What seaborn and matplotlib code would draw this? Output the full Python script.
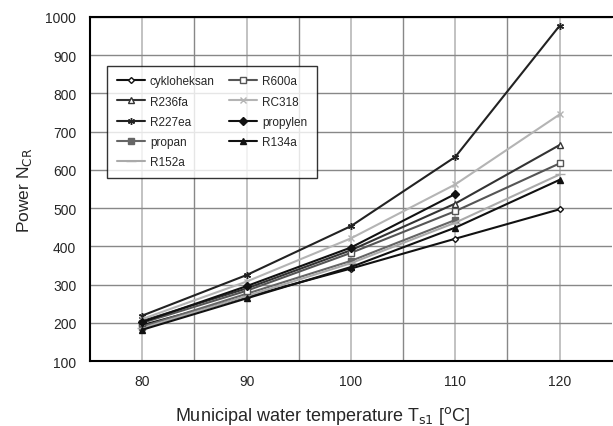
import pandas as pd
import matplotlib
matplotlib.use("Agg")
import matplotlib.pyplot as plt
from matplotlib.ticker import MultipleLocator
import seaborn as sns

# temperatura wody T_s1 [oC]
temp = [80, 90, 100, 110, 120]

cykloheksan = [194, 268, 342, 420, 497]
r600a = [200, 284, 383, 492, 617]
r236fa = [205, 290, 390, 512, 665]
rc318 = [210, 308, 421, 562, 745]
r227ea = [219, 325, 453, 634, 977]
propylen = [202, 296, 397, 537]
propan = [190, 276, 362, 469]
r134a = [182, 264, 346, 449, 574]
r152a = [186, 270, 356, 462, 588]

sns.set_style("white")
plt.rcParams['font.family'] = ['Liberation Sans', 'DejaVu Sans']

fig, ax = plt.subplots(figsize=(6.13, 4.27), dpi=100)

# nazwa, wartosci, kolor, marker, wypelnienie, rozmiar
serie = [
    ("cykloheksan", cykloheksan, "#111111", "D", "white", 3),
    ("R236fa", r236fa, "#333333", "^", "white", 4),
    ("R227ea", r227ea, "#222222", (6, 2, 0), "#222222", 5),
    ("propan", propan, "#666666", "s", "#666666", 4),
    ("R152a", r152a, "#aaaaaa", "_", "#aaaaaa", 7),
    ("R600a", r600a, "#555555", "s", "white", 4),
    ("RC318", rc318, "#b4b4b4", "x", "#b4b4b4", 5),
    ("propylen", propylen, "#111111", "D", "#111111", 4),
    ("R134a", r134a, "#111111", "^", "#111111", 4.5),
]

for nazwa, wart, kolor, mk, fc, ms in serie:
    df = pd.DataFrame({"T": temp[:len(wart)], "N": wart})
    sns.lineplot(data=df, x="T", y="N", ax=ax, color=kolor, marker=mk,
                 markerfacecolor=fc, markeredgecolor=kolor, markersize=ms,
                 markeredgewidth=1.0, linewidth=1.5, label=nazwa, legend=False)

ax.set_xlim(75, 125)
ax.set_ylim(100, 1000)
ax.yaxis.set_major_locator(MultipleLocator(100))
ax.set_xticks([80, 90, 100, 110, 120])
ax.set_xticks([85, 95, 105, 115], minor=True)
ax.grid(True, which="major", axis="x", color="#b8b8b8", linewidth=1.2)
ax.grid(True, which="minor", axis="x", color="#888888", linewidth=1.0)
ax.grid(True, which="major", axis="y", color="#888888", linewidth=1.0)
ax.set_axisbelow(True)
ax.tick_params(axis="x", which="minor", length=0)
ax.tick_params(axis="x", which="major", direction="out", length=3, pad=6, labelsize=10)
ax.tick_params(axis="y", direction="in", length=3, pad=10, labelsize=10)

for s in ["left", "bottom", "top"]:
    ax.spines[s].set_color("black")
    ax.spines[s].set_linewidth(1.5)
ax.spines["right"].set_visible(False)

ax.set_xlabel("Municipal water temperature T$_{\\mathrm{s1}}$ [$^{\\mathrm{o}}$C]",
              fontsize=13)
ax.xaxis.set_label_coords(0.446, -0.125)
ax.set_ylabel("Power N$_{\\mathrm{CR}}$", fontsize=12.5, labelpad=8)

handles, labels = ax.get_legend_handles_labels()
leg = ax.legend(handles, labels, ncol=2, loc="upper left", bbox_to_anchor=(0.022, 0.875),
                fontsize=8.5, frameon=True, fancybox=False, edgecolor="black",
                handlelength=2.4, handletextpad=0.4, columnspacing=1.2,
                labelspacing=0.7, borderpad=0.8)
leg.get_frame().set_linewidth(1.0)

fig.subplots_adjust(left=0.147, right=0.998, top=0.958, bottom=0.152)
fig.savefig("out.png", dpi=100)
